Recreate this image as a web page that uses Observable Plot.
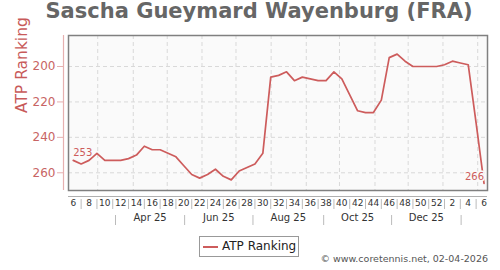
<!DOCTYPE html>
<html>
<head>
<meta charset="utf-8">
<script src="https://cdn.jsdelivr.net/npm/d3@7"></script>
<script src="https://cdn.jsdelivr.net/npm/@observablehq/plot@0.6"></script>
<style>
  body { margin: 0; background: #fff; font-family: "DejaVu Sans", sans-serif; }
  #wrap { position: relative; width: 500px; height: 270px; overflow: hidden; }
  #wrap svg { position: absolute; left: 0; top: 0; }
  #title { position: absolute; left: 9px; top: 0px; width: 500px; text-align: center; font-weight: bold;
           font-size: 21px; line-height: 23px; color: #666; white-space: nowrap; }
  #legend { position: absolute; left: 199px; top: 236px; width: 98px; height: 19px; border: 1px solid #999;
            background: #fff; box-sizing: content-box; }
  #legend .swatch { position: absolute; left: 3px; top: 9px; width: 15px; height: 2px; background: #cd5c5c; }
  #legend .lab { position: absolute; left: 22px; top: 0; font-size: 12px; line-height: 19px; color: #222; white-space: nowrap; }
  #credit { position: absolute; right: 12px; top: 254px; font-size: 9.5px; line-height: 10px; color: #555; white-space: nowrap; }
</style>
</head>
<body>
<div id="wrap">
  <div id="title">Sascha Gueymard Wayenburg (FRA)</div>
  <div id="legend"><div class="swatch"></div><div class="lab">ATP Ranking</div></div>
  <div id="credit">© www.coretennis.net, 02-04-2026</div>
</div>
<script>
// Week numbers (weekly ATP ranking, week 6 of 2025 to week 6 of 2026)
const weekLabels = ["6","7","8","9","10","11","12","13","14","15","16","17","18","19","20","21","22","23","24","25",
  "26","27","28","29","30","31","32","33","34","35","36","37","38","39","40","41","42","43","44","45",
  "46","47","48","49","50","51","52","1","2","3","4","5","6"];
// ATP ranking per week
const ranks = [253,255,253,249,253,253,253,252,250,245,247,247,249,251,256,261,263,261,258,262,
  264,259,257,255,249,206,205,203,208,206,207,208,208,203,207,216,225,226,226,219,
  195,193,197,200,200,200,200,199,197,198,199,232,266];
const yTicks = [200, 220, 240, 260];
// monthly grid lines and two-month band separators (in week-index units)
const monthGrid = [3.1, 7.6, 11.9, 16.3, 20.6, 25.05, 29.5, 33.7, 38.2, 42.4, 46.8, 51.2];
const monthSeps = [5.35, 14.1, 22.75, 31.7, 40.3, 49.1];
const monthLabels = ["Apr 25", "Jun 25", "Aug 25", "Oct 25", "Dec 25"];

const xDomain = [-0.6, 52.44];
const yDomain = [270, 182.5];
const RED = "#cd5c5c";
const PINK = "#e6b0b0";

const idx = ranks.map((_, i) => i);
const data = idx.map(i => ({i, week: weekLabels[i], rank: ranks[i]}));
const labelIdx = idx.filter(i => i % 2 === 0);
const sepIdx = idx.filter(i => i % 2 === 1);
const monthMid = monthLabels.map((m, k) => ({m, x: (monthSeps[k] + monthSeps[k + 1]) / 2}));
const first = data[0], last = data[data.length - 1];

const plot = Plot.plot({
  width: 500, height: 270,
  marginLeft: 68, marginRight: 13, marginTop: 35, marginBottom: 80,
  x: {domain: xDomain},
  y: {domain: yDomain},
  style: {fontFamily: "DejaVu Sans", fontSize: "10px", background: "transparent", overflow: "visible"},
  marks: [
    Plot.frame({fill: "#fafafa"}),
    Plot.ruleY(yTicks, {stroke: "#d9d9d9", strokeDasharray: "4,3"}),
    Plot.ruleX(monthGrid, {stroke: "#d9d9d9", strokeDasharray: "4,3"}),
    Plot.line(data, {x: "i", y: "rank", stroke: RED, strokeWidth: 1.7}),
    Plot.text([first], {x: "i", y: "rank", text: d => String(d.rank), textAnchor: "start", dy: -8,
      fontSize: 10, fill: RED, stroke: "#fafafa", strokeWidth: 3}),
    Plot.text([last], {x: "i", y: "rank", text: d => String(d.rank), textAnchor: "end", dy: -7,
      fontSize: 10, fill: RED, stroke: "#fafafa", strokeWidth: 3}),
    Plot.frame({stroke: "#808080", strokeWidth: 1.5}),
    // y axis
    Plot.ruleX([xDomain[0]], {dx: -5, stroke: PINK, strokeWidth: 1.2}),
    Plot.axisY(yTicks, {anchor: "left", dx: -5, tickSize: 6, tickPadding: 2, stroke: PINK,
      fill: "#c86464", fontSize: 12, label: null}),
    Plot.text(["ATP Ranking"], {text: d => d, frameAnchor: "left", dx: -46, rotate: -90,
      fontSize: 15.5, fill: "#c85a5a"}),
    // x axis
    Plot.ruleY([yDomain[0]], {dy: 6, stroke: "#b0b0b0"}),
    Plot.axisX(sepIdx, {anchor: "bottom", dy: 9, tickSize: 10, tickFormat: () => "", stroke: "#bbb", label: null}),
    Plot.text(labelIdx, {x: d => d, text: d => weekLabels[d], frameAnchor: "bottom", dy: 15,
      fontSize: 9, fill: "#333"}),
    Plot.axisX(monthSeps, {anchor: "bottom", dy: 25, tickSize: 10, tickFormat: () => "", stroke: "#bbb", label: null}),
    Plot.text(monthMid, {x: "x", text: "m", frameAnchor: "bottom", dy: 30.5, fontSize: 10, fill: "#333"})
  ]
});
document.getElementById("wrap").prepend(plot);
</script>
</body>
</html>
